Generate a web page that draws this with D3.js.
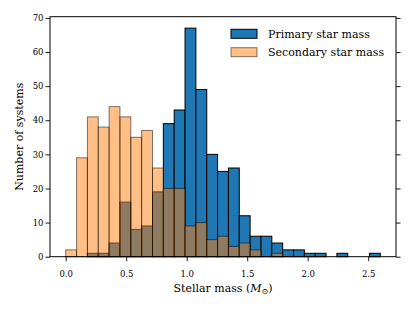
<!DOCTYPE html>
<html>
<head>
<meta charset="utf-8">
<script src="https://cdn.jsdelivr.net/npm/d3@7"></script>
<style>
body { margin: 0; background: #fff; }
svg { font-family: "DejaVu Serif", serif; }
</style>
</head>
<body>
<svg id="chart"></svg>
<script>
// histogram counts per mass bin (29 equal bins from 0.0 to 2.6 Msun)
var primaryCounts = [0, 0, 1, 1, 4, 16, 8, 9, 19, 39, 43, 67, 49, 30, 25, 26, 12, 6, 6, 4, 2, 2, 1, 1, 0, 1, 0, 0, 1];
var secondaryCounts = [2, 29, 41, 38, 44, 41, 35, 37, 26, 20, 20, 9, 10, 5, 6, 3, 4, 2, 0, 1, 0, 0, 0, 0, 0, 0, 0, 0, 0];
var massMin = 0.0;
var massMax = 2.6;
var xTicks = [0, 0.5, 1.0, 1.5, 2.0, 2.5];
var yTicks = [0, 10, 20, 30, 40, 50, 60, 70];
var seriesNames = ["Primary star mass", "Secondary star mass"];

var svgWidth = 415;
var svgHeight = 312;
var plotL = 50, plotR = 396, plotT = 16.7, plotB = 256.7;

var nBins = primaryCounts.length;
var binW = (massMax - massMin) / nBins;
var edges = d3.range(nBins + 1).map(function(i) { return massMin + i * binW; });

var pad = (massMax - massMin) * 0.05;
var xScale = d3.scaleLinear()
	.domain([massMin - pad, massMax + pad])
	.range([plotL, plotR]);

var yMax = d3.max(primaryCounts.concat(secondaryCounts)) * 1.05;
var yScale = d3.scaleLinear()
	.domain([0, yMax])
	.range([plotB, plotT]);

var svg = d3.select("#chart")
	.attr("width", svgWidth)
	.attr("height", svgHeight);

function bars(counts, fill, fillOp, strokeOp) {
	var g = svg.append("g");
	counts.forEach(function(c, i) {
		if (c <= 0) return;
		g.append("rect")
			.attr("x", xScale(edges[i]))
			.attr("width", xScale(edges[i + 1]) - xScale(edges[i]))
			.attr("y", yScale(c))
			.attr("height", yScale(0) - yScale(c))
			.attr("fill", fill)
			.attr("fill-opacity", fillOp)
			.attr("stroke", "#000")
			.attr("stroke-opacity", strokeOp)
			.attr("stroke-width", 1);
	});
}

bars(primaryCounts, "#1f77b4", 1, 1);
bars(secondaryCounts, "#ff7f0e", 0.5, 0.5);

// axes
var xAxis = svg.append("g")
	.attr("transform", "translate(0," + plotB + ")")
	.call(d3.axisBottom(xScale).tickValues(xTicks).tickFormat(d3.format(".1f")).tickSize(4.5));
xAxis.selectAll("text").attr("dy", null).attr("y", 20.3).attr("font-size", 8.5);

var yAxis = svg.append("g")
	.attr("transform", "translate(" + plotL + ",0)")
	.call(d3.axisLeft(yScale).tickValues(yTicks).tickSize(4.5).tickPadding(2));
yAxis.selectAll("text").attr("font-size", 8.5);

var yAxisR = svg.append("g")
	.attr("transform", "translate(" + plotR + ",0)")
	.call(d3.axisRight(yScale).tickValues(yTicks).tickFormat("").tickSize(4.5));

svg.selectAll(".domain").remove();
svg.selectAll(".tick line").attr("stroke", "#000").attr("stroke-width", 0.9);
svg.selectAll(".tick text").attr("font-family", "DejaVu Serif, serif").attr("fill", "#000");

svg.append("rect")
	.attr("x", plotL).attr("y", plotT)
	.attr("width", plotR - plotL).attr("height", plotB - plotT)
	.attr("fill", "none").attr("stroke", "#000").attr("stroke-width", 1);

// labels
var xl = svg.append("text")
	.attr("x", (plotL + plotR) / 2).attr("y", 292)
	.attr("text-anchor", "middle").attr("font-size", 11);
xl.append("tspan").text("Stellar mass (");
xl.append("tspan").attr("font-style", "italic").text("M");
xl.append("tspan").attr("font-size", 8).attr("dy", 2).text("⊙");
xl.append("tspan").attr("dy", -2).text(")");

svg.append("text")
	.attr("transform", "translate(23," + ((plotT + plotB) / 2) + ") rotate(-90)")
	.attr("text-anchor", "middle").attr("font-size", 11)
	.text("Number of systems");

// legend
var legend = svg.append("g");
var legFill = [["#1f77b4", 1], ["#ff7f0e", 0.5]];
seriesNames.forEach(function(name, i) {
	var yy = 29.3 + i * 18.4;
	legend.append("rect")
		.attr("x", 231).attr("y", yy).attr("width", 26).attr("height", 9)
		.attr("fill", legFill[i][0]).attr("fill-opacity", legFill[i][1])
		.attr("stroke", "#000").attr("stroke-opacity", legFill[i][1]);
	legend.append("text")
		.attr("x", 268).attr("y", yy + 8.4)
		.attr("font-size", 11)
		.text(name);
});
</script>
</body>
</html>
